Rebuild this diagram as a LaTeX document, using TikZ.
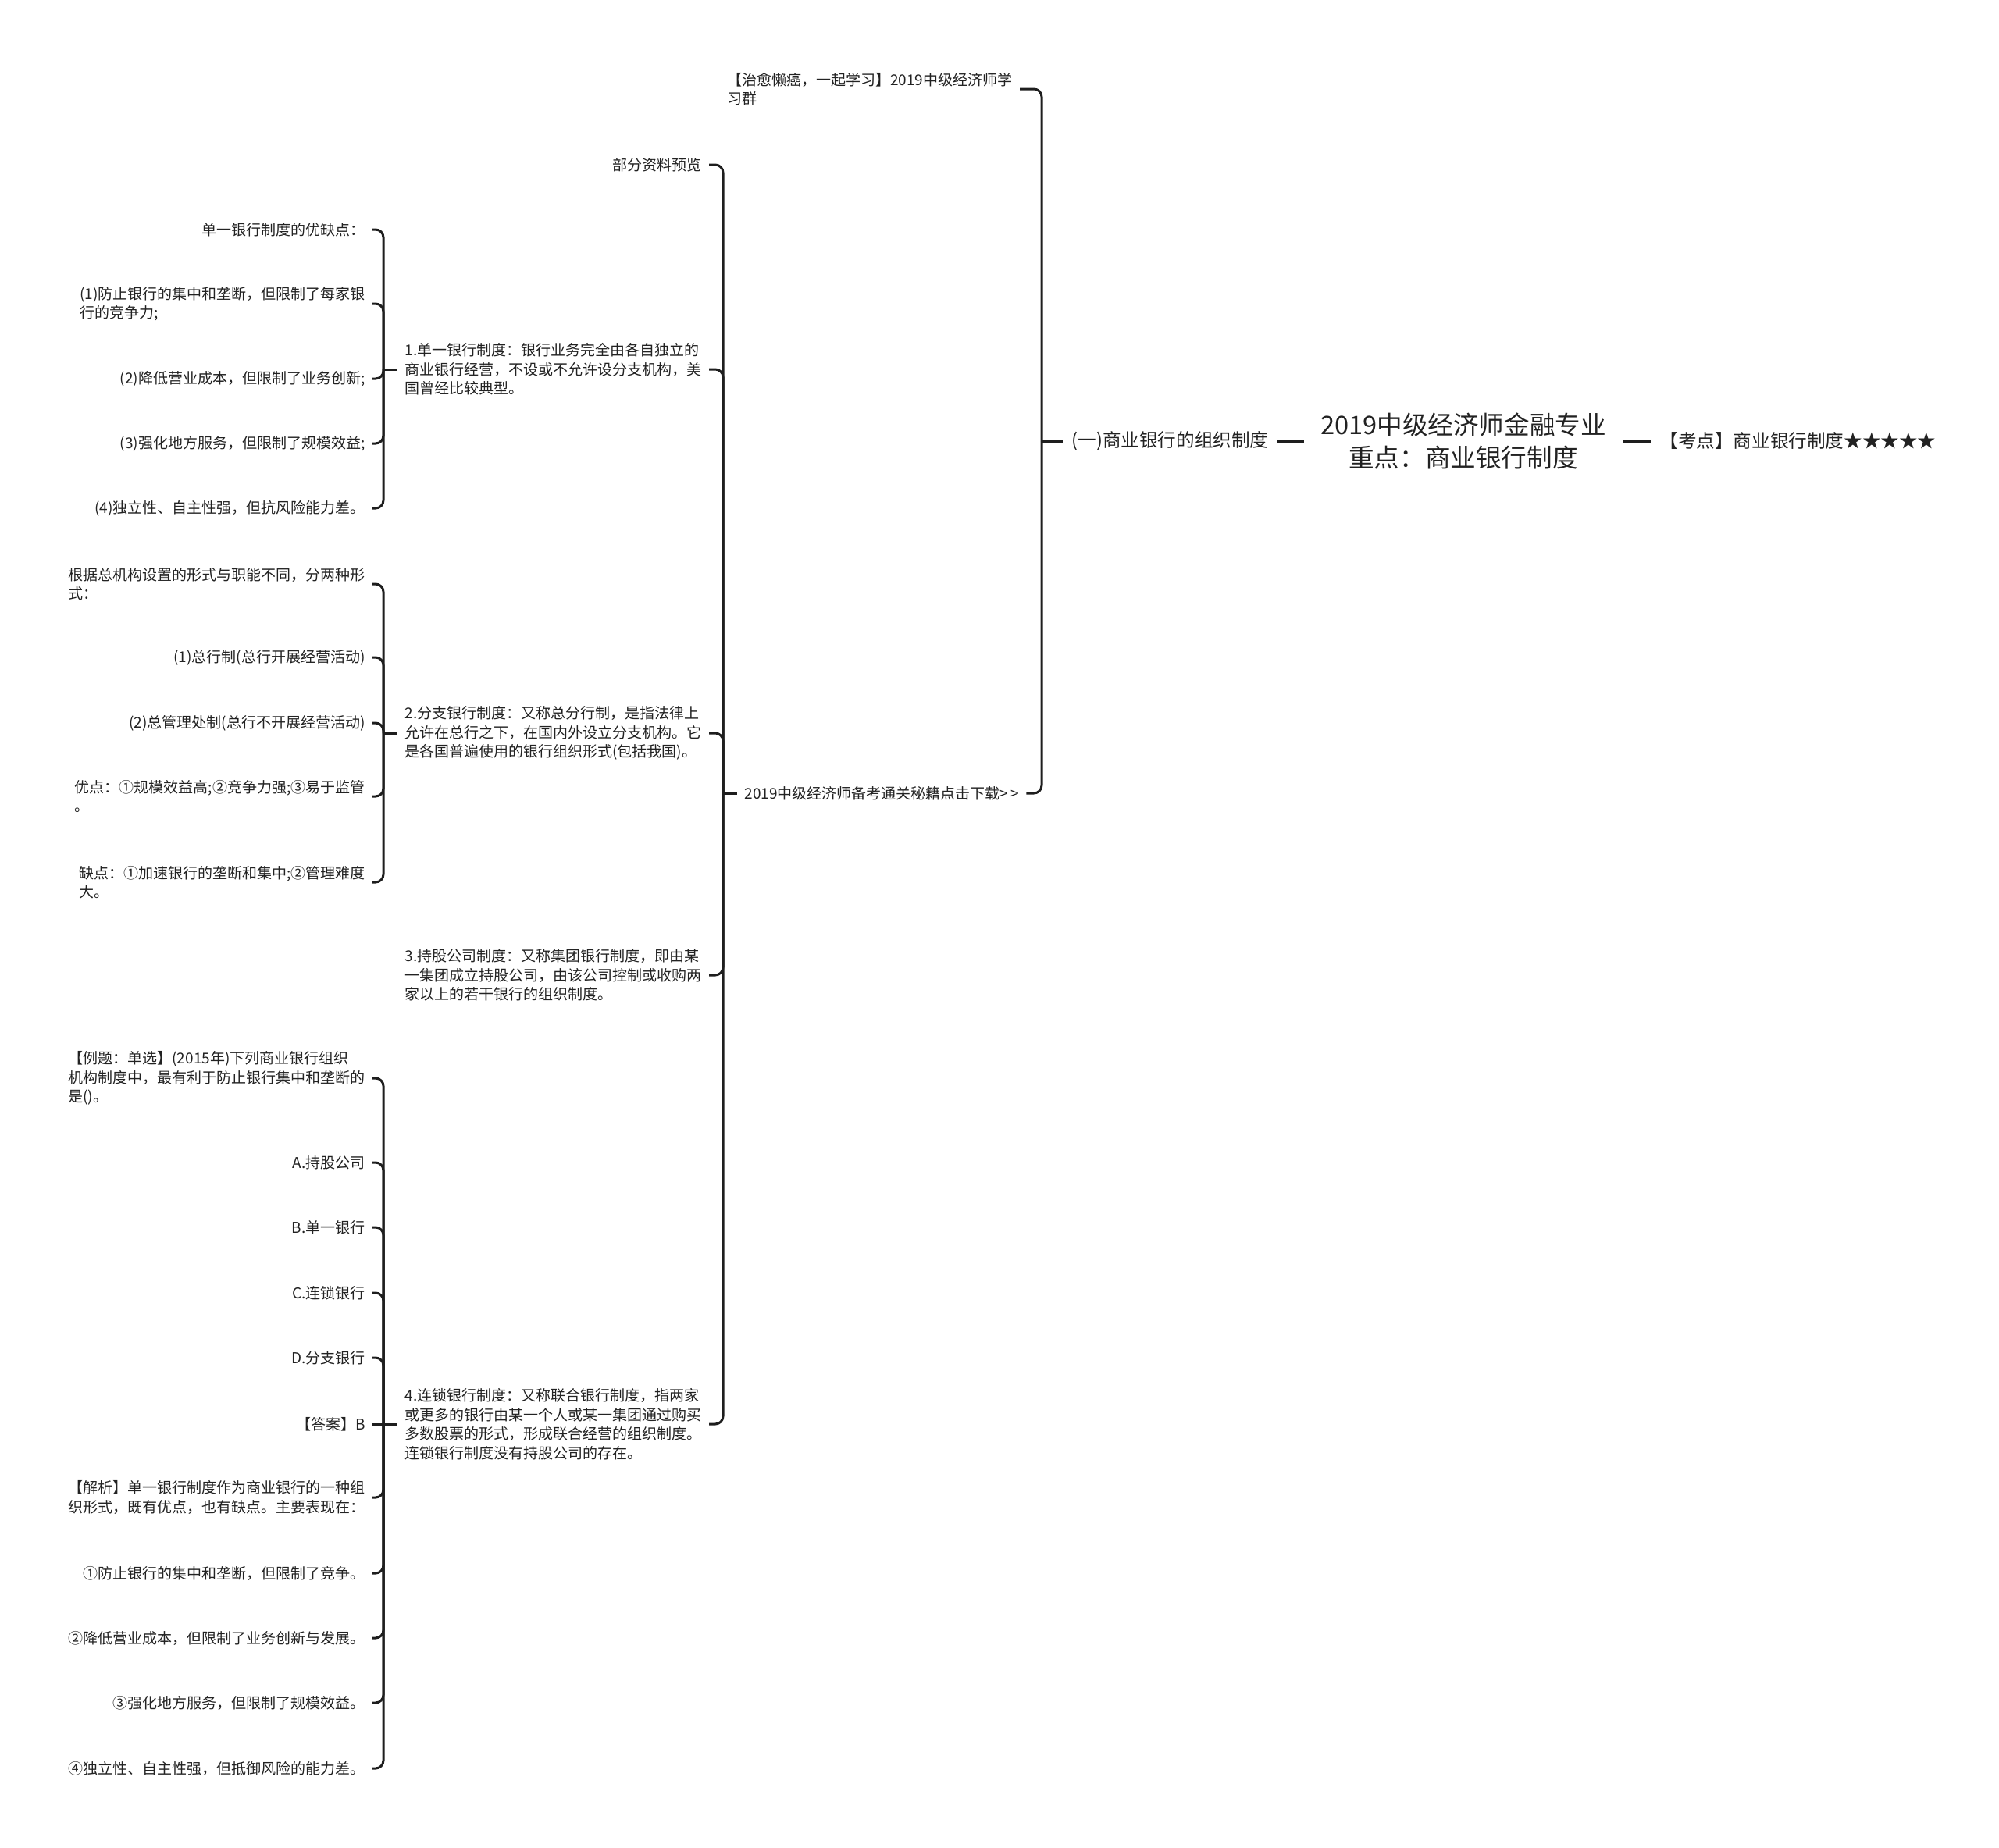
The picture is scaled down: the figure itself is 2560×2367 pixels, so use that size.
\documentclass[tikz,border=0pt]{standalone}
\usepackage{fontspec}
\setmainfont{Noto Sans CJK SC}
\definecolor{txtc}{RGB}{34,34,34}
\definecolor{linec}{RGB}{30,30,30}
\tikzset{every picture/.style={line width=1.5pt}}
\tikzset{
  topic/.style={font=\fontsize{16.3}{21.2}\selectfont, text=txtc, align=center, inner xsep=10pt, inner ysep=4pt},
  branch/.style={font=\fontsize{11.8}{14}\selectfont, text=txtc, inner xsep=5pt, inner ysep=3pt},
  leaf/.style={font=\fontsize{9.5}{12.25}\selectfont, text=txtc, align=left, inner xsep=4pt, inner ysep=2pt},
  link/.style={draw=linec, rounded corners=5pt},
}

\begin{document}
\begin{tikzpicture}[x=0.5pt,y=0.5pt,yscale=-1,xscale=1]
\useasboundingbox (0,0) rectangle (2560,2367);

% Text Node
\node [topic] (root) at (1874,565) {2019中级经济师金融专业\\重点：商业银行制度};
% Text Node
\node [branch, anchor=west] (star) at (2114,565) {【考点】商业银行制度★★★★★};
% Text Node
\node [branch, anchor=east] (org) at (1636,565) {(一)商业银行的组织制度};

%Straight Lines
\draw [link] (root.east) -- (star.west);
%Straight Lines
\draw [link] (root.west) -- (org.east);

% bracket points
\coordinate (bA) at (1334,565);
\coordinate (bB) at (926,1016);
\coordinate (bC) at (491,473);
\coordinate (bD) at (491,939);
\coordinate (bE) at (491,1824);

% Text Node
\node [leaf, anchor=east] (grp) at (1306,114) {【治愈懒癌，一起学习】2019中级经济师学\\习群};
% Text Node
\node [leaf, anchor=west] (dl) at (944,1016) {2019中级经济师备考通关秘籍点击下载>{}\,>{}};

%Curve Lines
\draw [link] (bA) -- (org.west);
\draw [link] (grp.east) -- (grp.east -| bA) -- (bA);
\draw [link] (dl.east) -- (dl.east -| bA) -- (bA);

% Text Node
\node [leaf, anchor=east] (pre) at (908,211) {部分资料预览};
% Text Node
\node [leaf, anchor=east] (unit) at (908,473) {1.单一银行制度：银行业务完全由各自独立的\\商业银行经营，不设或不允许设分支机构，美\\国曾经比较典型。};
% Text Node
\node [leaf, anchor=east] (branchsys) at (908,939) {2.分支银行制度：又称总分行制，是指法律上\\允许在总行之下，在国内外设立分支机构。它\\是各国普遍使用的银行组织形式(包括我国)。};
% Text Node
\node [leaf, anchor=east] (hold) at (908,1249) {3.持股公司制度：又称集团银行制度，即由某\\一集团成立持股公司，由该公司控制或收购两\\家以上的若干银行的组织制度。};
% Text Node
\node [leaf, anchor=east] (chain) at (908,1824) {4.连锁银行制度：又称联合银行制度，指两家\\或更多的银行由某一个人或某一集团通过购买\\多数股票的形式，形成联合经营的组织制度。\\连锁银行制度没有持股公司的存在。};

%Curve Lines
\draw [link] (bB) -- (dl.west);
\draw [link] (pre.east) -- (pre.east -| bB) -- (bB);
\draw [link] (unit.east) -- (unit.east -| bB) -- (bB);
\draw [link] (branchsys.east) -- (branchsys.east -| bB) -- (bB);
\draw [link] (hold.east) -- (hold.east -| bB) -- (bB);
\draw [link] (chain.east) -- (chain.east -| bB) -- (bB);

% Text Node
\node [leaf, anchor=east] (u1) at (477,294) {单一银行制度的优缺点：};
% Text Node
\node [leaf, anchor=east] (u2) at (477,389) {(1)防止银行的集中和垄断，但限制了每家银\\行的竞争力;};
% Text Node
\node [leaf, anchor=east] (u3) at (477,485) {(2)降低营业成本，但限制了业务创新;};
% Text Node
\node [leaf, anchor=east] (u4) at (477,568) {(3)强化地方服务，但限制了规模效益;};
% Text Node
\node [leaf, anchor=east] (u5) at (477,651) {(4)独立性、自主性强，但抗风险能力差。};

%Curve Lines
\draw [link] (bC) -- (unit.west);
\draw [link] (u1.east) -- (u1.east -| bC) -- (bC);
\draw [link] (u2.east) -- (u2.east -| bC) -- (bC);
\draw [link] (u3.east) -- (u3.east -| bC) -- (bC);
\draw [link] (u4.east) -- (u4.east -| bC) -- (bC);
\draw [link] (u5.east) -- (u5.east -| bC) -- (bC);

% Text Node
\node [leaf, anchor=east] (b1) at (477,748) {根据总机构设置的形式与职能不同，分两种形\\式：};
% Text Node
\node [leaf, anchor=east] (b2) at (477,842) {(1)总行制(总行开展经营活动)};
% Text Node
\node [leaf, anchor=east] (b3) at (477,926) {(2)总管理处制(总行不开展经营活动)};
% Text Node
\node [leaf, anchor=east] (b4) at (477,1020) {优点：①规模效益高;②竞争力强;③易于监管\\。};
% Text Node
\node [leaf, anchor=east] (b5) at (477,1130) {缺点：①加速银行的垄断和集中;②管理难度\\大。};

%Curve Lines
\draw [link] (bD) -- (branchsys.west);
\draw [link] (b1.east) -- (b1.east -| bD) -- (bD);
\draw [link] (b2.east) -- (b2.east -| bD) -- (bD);
\draw [link] (b3.east) -- (b3.east -| bD) -- (bD);
\draw [link] (b4.east) -- (b4.east -| bD) -- (bD);
\draw [link] (b5.east) -- (b5.east -| bD) -- (bD);

% Text Node
\node [leaf, anchor=east] (q0) at (477,1381) {【例题：单选】(2015年)下列商业银行组织\\机构制度中，最有利于防止银行集中和垄断的\\是()。};
% Text Node
\node [leaf, anchor=east] (qa) at (477,1489) {A.持股公司};
% Text Node
\node [leaf, anchor=east] (qb) at (477,1572) {B.单一银行};
% Text Node
\node [leaf, anchor=east] (qc) at (477,1656) {C.连锁银行};
% Text Node
\node [leaf, anchor=east] (qd) at (477,1739) {D.分支银行};
% Text Node
\node [leaf, anchor=east] (ans) at (477,1824) {【答案】B};
% Text Node
\node [leaf, anchor=east] (ex0) at (477,1918) {【解析】单一银行制度作为商业银行的一种组\\织形式，既有优点，也有缺点。主要表现在：};
% Text Node
\node [leaf, anchor=east] (ex1) at (477,2015) {①防止银行的集中和垄断，但限制了竞争。};
% Text Node
\node [leaf, anchor=east] (ex2) at (477,2098) {②降低营业成本，但限制了业务创新与发展。};
% Text Node
\node [leaf, anchor=east] (ex3) at (477,2181) {③强化地方服务，但限制了规模效益。};
% Text Node
\node [leaf, anchor=east] (ex4) at (477,2265) {④独立性、自主性强，但抵御风险的能力差。};

%Curve Lines
\draw [link] (bE) -- (chain.west);
\draw [link] (q0.east) -- (q0.east -| bE) -- (bE);
\draw [link] (qa.east) -- (qa.east -| bE) -- (bE);
\draw [link] (qb.east) -- (qb.east -| bE) -- (bE);
\draw [link] (qc.east) -- (qc.east -| bE) -- (bE);
\draw [link] (qd.east) -- (qd.east -| bE) -- (bE);
\draw [link] (ans.east) -- (bE);
\draw [link] (ex0.east) -- (ex0.east -| bE) -- (bE);
\draw [link] (ex1.east) -- (ex1.east -| bE) -- (bE);
\draw [link] (ex2.east) -- (ex2.east -| bE) -- (bE);
\draw [link] (ex3.east) -- (ex3.east -| bE) -- (bE);
\draw [link] (ex4.east) -- (ex4.east -| bE) -- (bE);
\end{tikzpicture}
\end{document}
